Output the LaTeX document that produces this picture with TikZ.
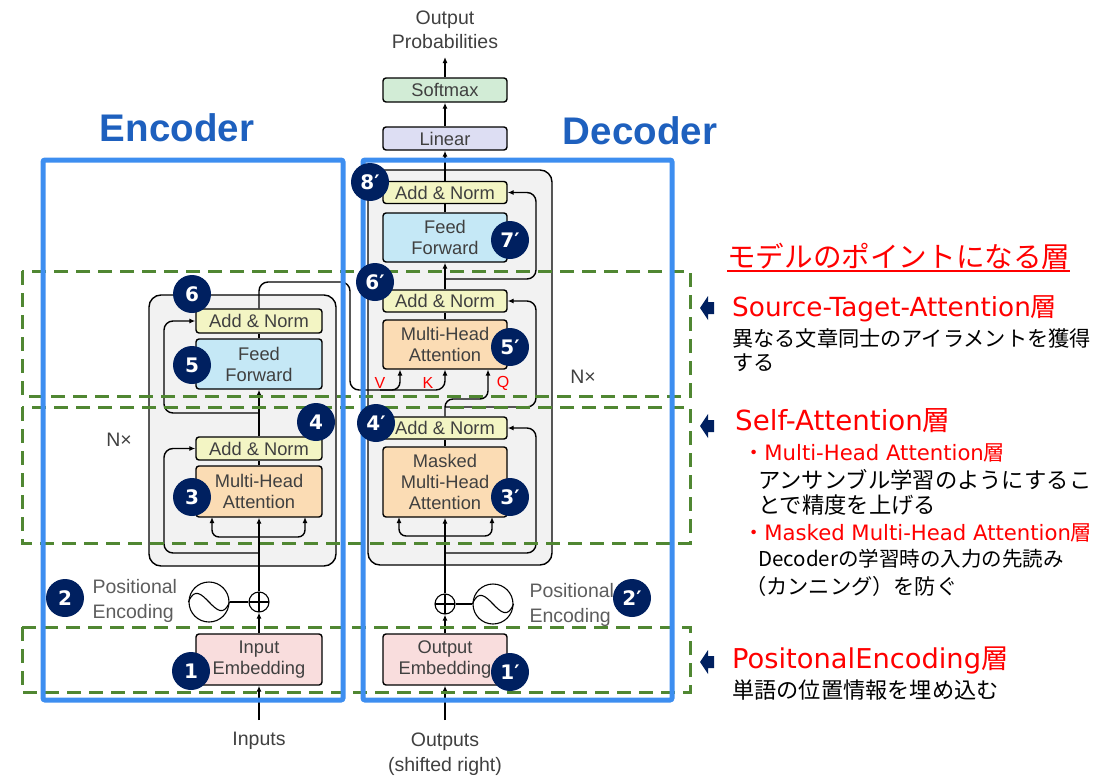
\documentclass[tikz,border=0pt]{standalone}
\usepackage{fontspec}
\setmainfont{Liberation Sans}
\newfontfamily\jp{Noto Sans CJK JP}
\newfontfamily\numf{DejaVu Sans}
\newfontfamily\dv{DejaVu Sans}
\usetikzlibrary{arrows.meta}
\definecolor{cAN}{RGB}{243,245,196}
\definecolor{cFF}{RGB}{197,232,246}
\definecolor{cMHA}{RGB}{251,220,180}
\definecolor{cEmb}{RGB}{249,221,221}
\definecolor{cLin}{RGB}{221,222,243}
\definecolor{cSoft}{RGB}{210,236,214}
\definecolor{cGrey}{RGB}{242,242,242}
\definecolor{cBlue}{RGB}{61,142,240}
\definecolor{cHead}{RGB}{30,96,190}
\definecolor{cGreen}{RGB}{80,135,50}
\definecolor{cNavy}{RGB}{0,32,96}
\definecolor{cRed}{RGB}{255,0,0}
\definecolor{txtgray}{RGB}{64,64,64}
\newcommand\fsz[2]{\fontsize{#1}{#2}\selectfont}
\begin{document}
\begin{tikzpicture}[x=1pt,y=-1pt,
  blk/.style={draw=black, line width=1.4pt, rounded corners=3pt, font=\fsz{18.3}{21}, text=txtgray, inner sep=0pt, align=center},
  ebox/.style={blk, minimum width=126pt},
  dbox/.style={blk, minimum width=124pt},
  arr/.style={-{Latex[length=6pt,width=5pt]}, line width=1.4pt},
  ln/.style={line width=1.4pt},
  plus/.style={draw, circle, minimum size=20pt, inner sep=0pt, line width=1.1pt,
    path picture={\draw[line width=1.1pt] (path picture bounding box.north) -- (path picture bounding box.south) (path picture bounding box.west) -- (path picture bounding box.east);}},
  sinc/.style={draw, circle, minimum size=40pt, inner sep=0pt, line width=1.1pt},
  num/.style={circle, fill=cNavy, text=white, minimum size=38pt, inner sep=0pt, font=\numf\bfseries\fsz{20}{20}},
  lab/.style={font=\fsz{19.5}{24.5}, text=txtgray, align=center},
  band/.style={cGreen, line width=3pt, dash pattern=on 14pt off 8pt},
  bluebox/.style={cBlue, line width=5pt, rounded corners=2pt},
  arrowmark/.style={fill=cNavy},
  rtitle/.style={text=cRed, font=\jp\fsz{27}{30}, anchor=west, inner sep=0pt},
  rsub/.style={text=cRed, font=\jp\fsz{21.2}{24}, anchor=west, inner sep=0pt},
  rtxt/.style={text=black, anchor=west, inner sep=0pt}
]
\useasboundingbox (0,0) rectangle (1114,779);

% headings
\node[text=cHead, font=\bfseries\fsz{38.5}{40}] (hEnc) at (177,128) {Encoder};
\node[text=cHead, font=\bfseries\fsz{38.5}{40}] (hDec) at (640,131) {Decoder};

% grey blocks
\draw[fill=cGrey, ln, rounded corners=12pt] (149,295) rectangle (336,566);
\draw[fill=cGrey, ln, rounded corners=12pt] (368,170) rectangle (552,565);

% encoder boxes
\node[ebox, fill=cAN, minimum height=24pt] (eAN2) at (259,321) {Add \& Norm};
\node[ebox, fill=cFF, minimum height=50pt] (eFF) at (259,364) {Feed\\Forward};
\node[ebox, fill=cAN, minimum height=23pt] (eAN1) at (259,448.5) {Add \& Norm};
\node[ebox, fill=cMHA, minimum height=51pt] (eMHA) at (259,491.5) {Multi-Head\\Attention};
\node[ebox, fill=cEmb, minimum height=51pt] (eEmb) at (259,659.5) {Input\\Embedding};
\node[plus] (eplus) at (259,602) {};
\node[sinc] (esin) at (209,602) {};
\draw[line width=1.1pt] (esin.west) .. controls +(12,-30) and +(-12,30) .. (esin.east);

% decoder boxes
\node[dbox, fill=cSoft, minimum height=24pt] (dSoft) at (445,90) {Softmax};
\node[dbox, fill=cLin, minimum height=23pt] (dLin) at (445,138.5) {Linear};
\node[dbox, fill=cAN, minimum height=22pt] (dAN3) at (445,192.5) {Add \& Norm};
\node[dbox, fill=cFF, minimum height=49pt] (dFF) at (445,237.5) {Feed\\Forward};
\node[dbox, fill=cAN, minimum height=22pt] (dAN2) at (445,301) {Add \& Norm};
\node[dbox, fill=cMHA, minimum height=49pt] (dMHA) at (445,344.5) {Multi-Head\\Attention};
\node[dbox, fill=cAN, minimum height=22pt] (dAN1) at (445,428) {Add \& Norm};
\node[dbox, fill=cMHA, minimum height=70pt] (dMMHA) at (445,482) {Masked\\Multi-Head\\Attention};
\node[dbox, fill=cEmb, minimum height=51pt] (dEmb) at (445,659.5) {Output\\Embedding};
\node[plus] (dplus) at (445,604) {};
\node[sinc] (dsin) at (493,604) {};
\draw[line width=1.1pt] (dsin.west) .. controls +(12,-30) and +(-12,30) .. (dsin.east);

% labels
\node[lab] (tIn) at (259,741) {Inputs};
\node[lab] (tOut) at (445,754) {Outputs\\(shifted right)};
\node[lab] (tProb) at (445,30) {Output\\Probabilities};
\node[lab, align=left, anchor=west, text=txtgray!85] (tPEe) at (89,601) {Positional\\Encoding};
\node[lab, align=left, anchor=west, text=txtgray!85] (tPEd) at (526,605) {Positional\\Encoding};
\node[lab] (nE) at (119,440) {N×};
\node[lab] (nD) at (583,377) {N×};
\node[text=cRed, font=\fsz{16}{18}] (lV) at (380,383) {V};
\node[text=cRed, font=\fsz{16}{18}] (lK) at (428,383) {K};
\node[text=cRed, font=\fsz{16}{18}] (lQ) at (503,383) {Q};

% encoder connectors
\coordinate (inS) at (259,720);
\draw[arr] (inS) -- (eEmb.south);
\draw[arr] (eEmb.north) -- (eplus.south);
\draw[line width=1.1pt] (esin.east) -- (eplus.west);
\draw[arr] (eplus.north) -- (eMHA.south);
\draw[arr, rounded corners=7pt] (259,537) -- (212,537) -- (212,517);
\draw[arr, rounded corners=7pt] (259,537) -- (305,537) -- (305,517);
\draw[arr, rounded corners=9pt] (259,553) -- (164,553) -- (164,448.5) -- (eAN1.west);
\draw[ln] (eMHA.north) -- (eAN1.south);
\draw[arr] (eAN1.north) -- (eFF.south);
\draw[arr, rounded corners=9pt] (259,413) -- (164,413) -- (164,321) -- (eAN2.west);
\draw[ln] (eFF.north) -- (eAN2.south);
\draw[arr, rounded corners=9pt] (eAN2.north) -- (259,282) -- (350,282) -- (350,390) -- (445,390) -- (445,369.5);
\draw[arr, rounded corners=8pt] (380,390) -- (400,390) -- (400,369.5);

% decoder connectors
\coordinate (outS) at (445,720);
\coordinate (probT) at (445,57);
\draw[arr] (outS) -- (dEmb.south);
\draw[arr] (dEmb.north) -- (dplus.south);
\draw[line width=1.1pt] (dplus.east) -- (dsin.west);
\draw[arr] (dplus.north) -- (dMMHA.south);
\draw[arr, rounded corners=7pt] (445,536) -- (399,536) -- (399,517);
\draw[arr, rounded corners=7pt] (445,536) -- (492,536) -- (492,517);
\draw[arr, rounded corners=9pt] (445,553) -- (536,553) -- (536,428) -- (dAN1.east);
\draw[ln] (dMMHA.north) -- (dAN1.south);
\draw[arr, rounded corners=8pt] (dAN1.north) -- (445,399) -- (488,399) -- (488,369.5);
\draw[arr, rounded corners=9pt] (445,407) -- (536,407) -- (536,301) -- (dAN2.east);
\draw[ln] (dMHA.north) -- (dAN2.south);
\draw[arr] (dAN2.north) -- (dFF.south);
\draw[arr, rounded corners=9pt] (445,279) -- (536,279) -- (536,192.5) -- (dAN3.east);
\draw[ln] (dFF.north) -- (dAN3.south);
\draw[arr] (dAN3.north) -- (dLin.south);
\draw[arr] (dLin.north) -- (dSoft.south);
\draw[arr] (dSoft.north) -- (probT);

% green dashed bands
\draw[band] (22,271) rectangle (690,396);
\draw[band] (22,407) rectangle (690,543);
\draw[band] (22,627) rectangle (690,692);

% blue boxes
\draw[bluebox] (43,160) rectangle (343,700);
\draw[bluebox] (363,160) rectangle (672,700);

% numbered circles
\node[num] (c1) at (191,671) {1};
\node[num] (c2) at (65,598) {2};
\node[num] (c3) at (192,497) {3};
\node[num] (c4) at (316,422) {4};
\node[num] (c5) at (192,365) {5};
\node[num] (c6) at (192,294) {6};
\node[num] (d1) at (510,672) {1′};
\node[num] (d2) at (632,598) {2′};
\node[num] (d3) at (510,497) {3′};
\node[num] (d4) at (376,423) {4′};
\node[num] (d5) at (510,347) {5′};
\node[num] (d6) at (375,282) {6′};
\node[num] (d7) at (510,240) {7′};
\node[num] (d8) at (370,182) {8′};

% right-hand annotations
\node[text=cRed, font=\jp\fsz{28.6}{30}, anchor=west, inner sep=0pt] (t0) at (727,256) {モデルのポイントになる層};
\draw[cRed, line width=1.5pt] (727,271) -- (1070,271);

\fill[arrowmark] (700,308) -- (708,296) -- (708,302) -- (714,302) -- (714,314) -- (708,314) -- (708,320) -- cycle;
\fill[arrowmark] (700,426) -- (708,414) -- (708,420) -- (714,420) -- (714,432) -- (708,432) -- (708,438) -- cycle;
\fill[arrowmark] (700,662) -- (708,650) -- (708,656) -- (714,656) -- (714,668) -- (708,668) -- (708,674) -- cycle;

\node[rtitle, font=\jp\fsz{26.3}{30}] (r1) at (732,309) {{\dv Source-Taget-Attention}層};
\node[rtxt, font=\jp\fsz{21.2}{24}] (r1a) at (732,338) {異なる文章同士のアイラメントを獲得};
\node[rtxt, font=\jp\fsz{21.2}{24}] (r1b) at (732,363) {する};

\node[rtitle, font=\jp\fsz{27.7}{30}] (r2) at (735,421) {{\dv Self-Attention}層};
\node[rsub] (r2a) at (743,453) {・{\dv Multi-Head Attention}層};
\node[rtxt, font=\jp\fsz{22.3}{24}] (r2b) at (758,480) {アンサンブル学習のようにするこ};
\node[rtxt, font=\jp\fsz{22.3}{24}] (r2c) at (758,505) {とで精度を上げる};
\node[rsub] (r2d) at (743,533) {・{\dv Masked Multi-Head Attention}層};
\node[rtxt, font=\jp\fsz{20.5}{24}] (r2e) at (758,559) {Decoderの学習時の入力の先読み};
\node[rtxt, font=\jp\fsz{21.2}{24}] (r2f) at (745,586) {（カンニング）を防ぐ};

\node[rtitle, font=\jp\fsz{27.3}{30}] (r3) at (732,661) {{\dv PositonalEncoding}層};
\node[rtxt, font=\jp\fsz{22.2}{24}] (r3a) at (732,690) {単語の位置情報を埋め込む};
\end{tikzpicture}
\end{document}
